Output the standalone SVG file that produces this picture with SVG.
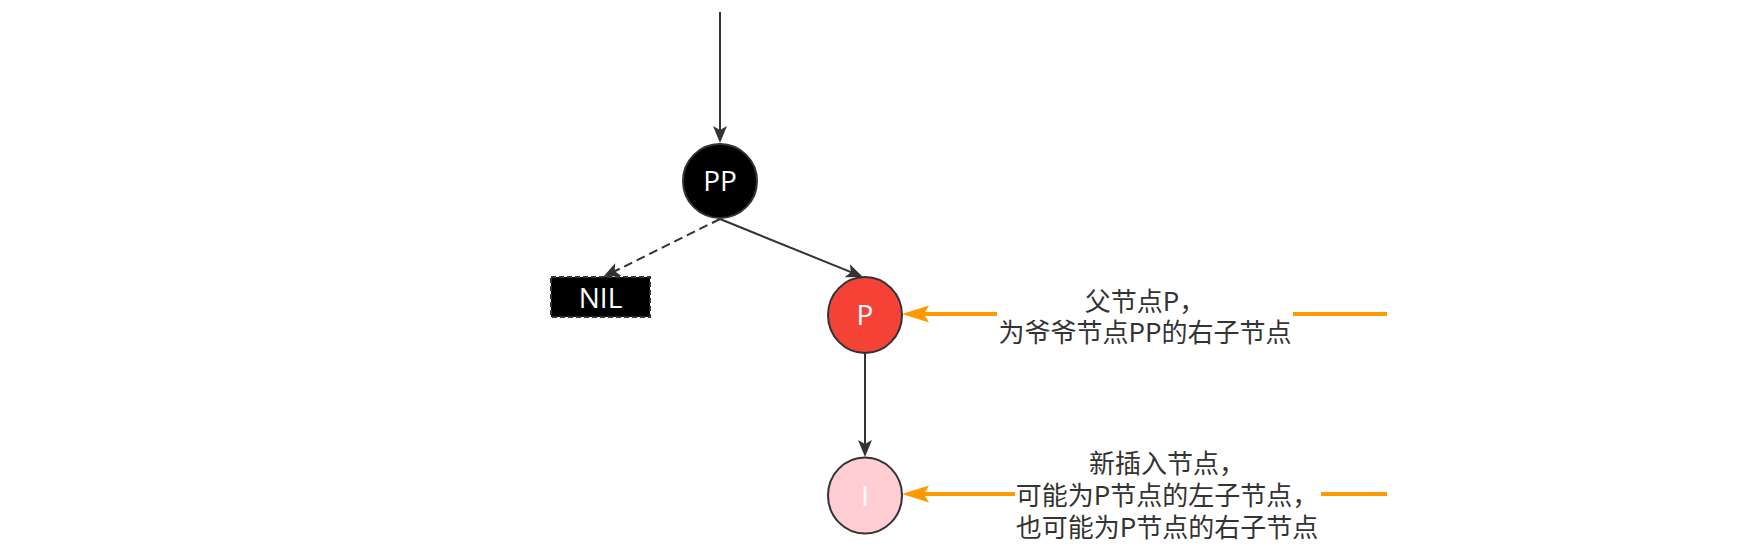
<svg xmlns="http://www.w3.org/2000/svg" width="1764" height="552" viewBox="0 0 1764 552">
<defs>
<style>
.node{stroke:#333333;stroke-width:2}
.lbl{font-family:"Open Sans","Liberation Sans",sans-serif;font-size:28px;fill:#ffffff;text-anchor:middle}
.note{font-family:"Noto Sans CJK SC","Open Sans",sans-serif;font-size:26px;fill:#333333;text-anchor:middle}
.edge{fill:none;stroke:#333333;stroke-width:2}
.dash{stroke-dasharray:9 5}
.orange{fill:none;stroke:#FF9900;stroke-width:4}
</style>
<marker id="arr" markerUnits="userSpaceOnUse" viewBox="-1 -9 19 18" markerWidth="19" markerHeight="18" refX="10" refY="0" orient="auto">
<path d="M17,0 L0,-7 L4,0 L0,7 Z" fill="#333333"/>
</marker>
<marker id="oarr" markerUnits="userSpaceOnUse" viewBox="-1 -10 30 20" markerWidth="30" markerHeight="20" refX="14" refY="0" orient="auto">
<path d="M27,0 L0,-8.5 L5,0 L0,8.5 Z" fill="#FF9900"/>
</marker>
</defs>
<rect width="1764" height="552" fill="#ffffff"/>
<g id="connectors">
<path class="edge" d="M720,12 L720,136" marker-end="url(#arr)"/>
<path class="edge dash" d="M720,219 L609.3,273.9" marker-end="url(#arr)"/>
<path class="edge" d="M720,219 L856.5,274.4" marker-end="url(#arr)"/>
<path class="edge" d="M865,353 L865,450" marker-end="url(#arr)"/>
<path class="orange" d="M1387,314 L1293,314"/>
<path class="orange" d="M997,314 L915,314" marker-end="url(#oarr)"/>
<path class="orange" d="M1387,494 L1321,494"/>
<path class="orange" d="M1015,494 L915,494" marker-end="url(#oarr)"/>
</g>
<g id="node-PP">
<circle class="node" cx="720" cy="181" r="37" fill="#000000"/>
<text class="lbl" x="720" y="191">PP</text>
</g>
<g id="node-NIL">
<rect x="551" y="277" width="99" height="40" fill="#000000" stroke="#333333" stroke-width="2" stroke-dasharray="5 3"/>
<text class="lbl" x="600.5" y="307.5">NIL</text>
</g>
<g id="node-P">
<ellipse class="node" cx="865" cy="315" rx="37" ry="38" fill="#F44336"/>
<text class="lbl" x="865" y="325">P</text>
</g>
<g id="node-I">
<ellipse class="node" cx="865" cy="495.5" rx="37" ry="38" fill="#FFCDD2"/>
<text class="lbl" x="865" y="505.5">I</text>
</g>
<g id="label-P">
<text class="note" x="1145" y="311">父节点P，</text>
<text class="note" x="1145" y="342">为爷爷节点PP的右子节点</text>
</g>
<g id="label-I">
<text class="note" x="1167" y="473">新插入节点，</text>
<text class="note" x="1167" y="505">可能为P节点的左子节点，</text>
<text class="note" x="1167" y="537">也可能为P节点的右子节点</text>
</g>
</svg>
